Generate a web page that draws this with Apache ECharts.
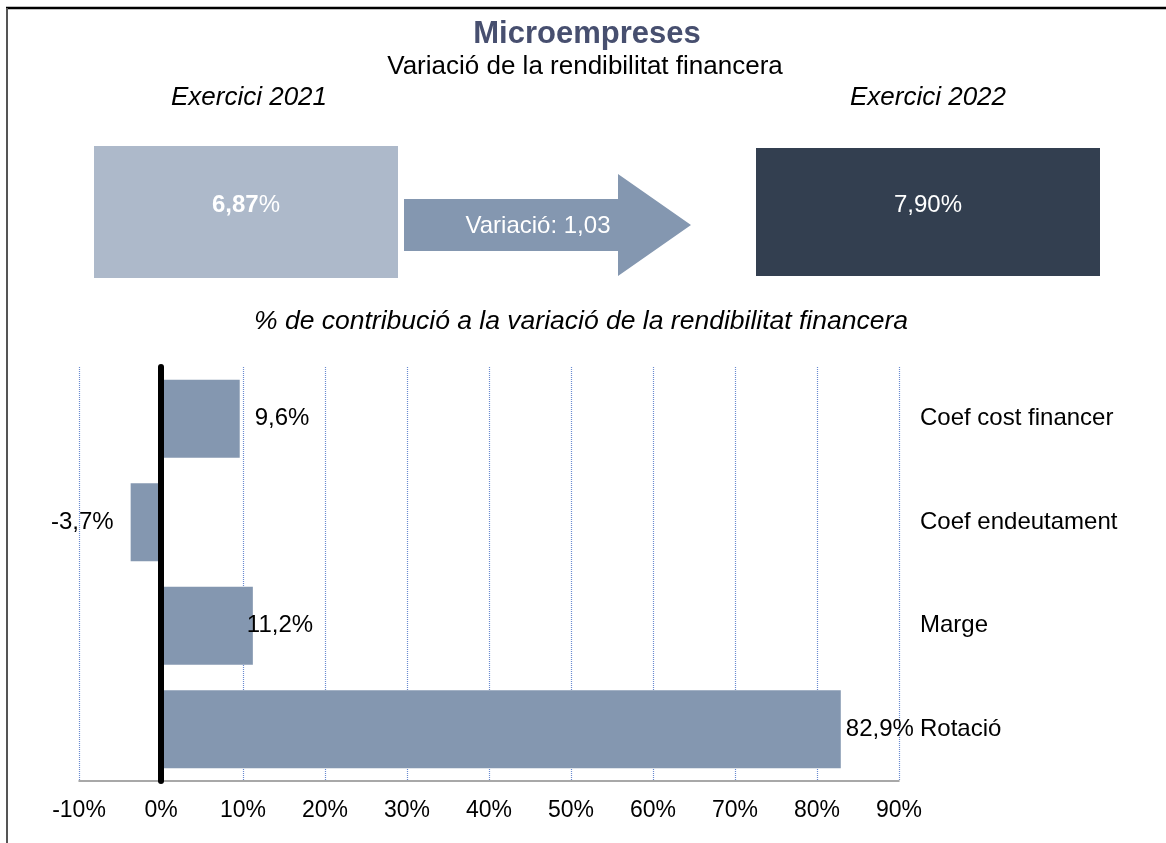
<!DOCTYPE html>
<html>
<head>
<meta charset="utf-8">
<title>Microempreses</title>
<script src="https://cdn.jsdelivr.net/npm/echarts@6/dist/echarts.min.js"></script>
<style>
  html, body { margin: 0; padding: 0; background: #fff; }
  #chart { width: 1166px; height: 843px; }
</style>
</head>
<body>
<div id="chart"></div>
<script>
// dades
const categories = ['Coef cost financer', 'Coef endeutament', 'Marge', 'Rotació'];
const contribucio = [9.6, -3.7, 11.2, 82.9];
const xTicks = { min: -10, max: 90, interval: 10 };
const rendibilitat2021 = '6,87';
const rendibilitat2022 = '7,90';
const variacio = '1,03';

// separació de cada etiqueta respecte la barra (com a l'original)
const labelGap = [15, 17, -6, 5];

const font = '"Liberation Sans", Arial, sans-serif';
const barColor = '#8497b0';

const chart = echarts.init(document.getElementById('chart'));

const option = {
  animation: false,
  textStyle: { fontFamily: font },
  grid: { left: 79, right: 267, top: 367, bottom: 62 },
  xAxis: {
    type: 'value',
    min: xTicks.min,
    max: xTicks.max,
    interval: xTicks.interval,
    axisLine: { show: true, lineStyle: { color: '#8c8c8c', width: 1.5 } },
    axisTick: { show: false },
    axisLabel: {
      formatter: '{value}%',
      color: '#000',
      fontSize: 23,
      fontFamily: font,
      margin: 18
    },
    splitLine: { show: true, lineStyle: { color: '#6a8ad0', type: [1, 1], width: 1.2 } }
  },
  yAxis: [
    {
      type: 'category',
      data: categories,
      inverse: true,
      axisLine: { show: true, onZero: true, lineStyle: { color: '#000', width: 6 } },
      axisTick: { show: false },
      axisLabel: { show: false },
      z: 5
    },
    {
      type: 'category',
      data: categories,
      inverse: true,
      position: 'right',
      axisLine: { show: false, onZero: false },
      axisTick: { show: false },
      axisLabel: { color: '#000', fontSize: 24, fontFamily: font, margin: 21, align: 'left' }
    }
  ],
  series: [
    {
      type: 'bar',
      yAxisIndex: 0,
      barWidth: 78,
      itemStyle: { color: barColor },
      data: contribucio.map((v, i) => ({
        value: v,
        label: {
          show: true,
          position: v < 0 ? 'left' : 'right',
          distance: labelGap[i],
          formatter: v.toFixed(1).replace('.', ',') + '%',
          color: '#000',
          fontSize: 24,
          fontFamily: font
        }
      }))
    }
  ],
  graphic: [
    // marc
    { type: 'line', shape: { x1: 6, y1: 8, x2: 1166, y2: 8 }, style: { stroke: '#000', lineWidth: 2.5 } },
    { type: 'line', shape: { x1: 7, y1: 8, x2: 7, y2: 843 }, style: { stroke: '#555', lineWidth: 2 } },
    // títols
    {
      type: 'text', x: 587, y: 34,
      style: { text: 'Microempreses', font: 'bold 31px ' + font, fill: '#474f6f', align: 'center', verticalAlign: 'middle' }
    },
    {
      type: 'text', x: 585, y: 67,
      style: { text: 'Variació de la rendibilitat financera', font: '26px ' + font, fill: '#000', align: 'center', verticalAlign: 'middle' }
    },
    {
      type: 'text', x: 249, y: 98,
      style: { text: 'Exercici 2021', font: 'italic 26px ' + font, fill: '#000', align: 'center', verticalAlign: 'middle' }
    },
    {
      type: 'text', x: 928, y: 98,
      style: { text: 'Exercici 2022', font: 'italic 26px ' + font, fill: '#000', align: 'center', verticalAlign: 'middle' }
    },
    // caixes
    { type: 'rect', shape: { x: 94, y: 146, width: 304, height: 132 }, style: { fill: '#adb9ca' } },
    {
      type: 'text', x: 246, y: 205,
      style: {
        text: '{b|' + rendibilitat2021 + '}{n|%}',
        align: 'center', verticalAlign: 'middle',
        rich: {
          b: { font: 'bold 24px ' + font, fill: '#fff' },
          n: { font: '24px ' + font, fill: '#fff' }
        }
      }
    },
    { type: 'rect', shape: { x: 756, y: 148, width: 344, height: 128 }, style: { fill: '#333f50' } },
    {
      type: 'text', x: 928, y: 205,
      style: { text: rendibilitat2022 + '%', font: '24px ' + font, fill: '#fff', align: 'center', verticalAlign: 'middle' }
    },
    // fletxa
    {
      type: 'polygon',
      shape: { points: [[404, 199], [618, 199], [618, 174], [691, 225], [618, 276], [618, 251], [404, 251]] },
      style: { fill: barColor }
    },
    {
      type: 'text', x: 538, y: 226,
      style: { text: 'Variació: ' + variacio, font: '24px ' + font, fill: '#fff', align: 'center', verticalAlign: 'middle' }
    },
    {
      type: 'text', x: 581, y: 322,
      style: {
        text: '% de contribució a la variació de la rendibilitat financera',
        font: 'italic 26.5px ' + font, fill: '#000', align: 'center', verticalAlign: 'middle'
      }
    }
  ]
};

chart.setOption(option);
</script>
</body>
</html>
